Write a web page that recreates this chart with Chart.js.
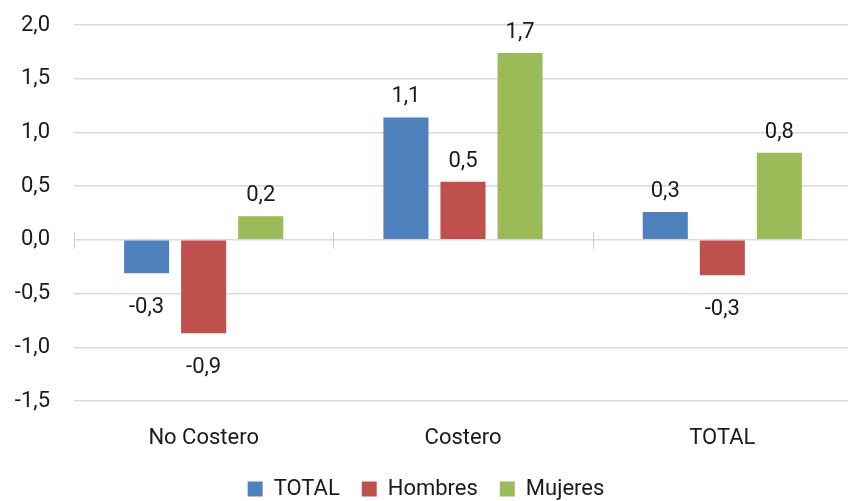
<!DOCTYPE html>
<html>
<head>
<meta charset="utf-8">
<script src="https://cdn.jsdelivr.net/npm/chart.js@4/dist/chart.umd.min.js"></script>
<style>
  html, body { margin: 0; padding: 0; background: #fff; overflow: hidden; }
  #wrap { width: 852px; height: 501px; position: relative; }
</style>
</head>
<body>
<div id="wrap"><canvas id="chart"></canvas></div>
<script>
const categories = ["No Costero", "Costero", "TOTAL"];
const seriesNames = ["TOTAL", "Hombres", "Mujeres"];
const totalValues = [-0.31, 1.14, 0.26];
const hombresValues = [-0.87, 0.54, -0.33];
const mujeresValues = [0.22, 1.74, 0.81];
const seriesColors = ["#4f81bd", "#c0504d", "#9bbb59"];

const FONT = "Roboto, 'DejaVu Sans', sans-serif";
const FSIZE = 22;

function fmt(v) {
  return v.toFixed(1).replace(".", ",");
}

// value labels above / below bars
const barLabels = {
  id: "barLabels",
  afterDatasetsDraw(chart) {
    const ctx = chart.ctx;
    ctx.save();
    ctx.font = FSIZE + "px " + FONT;
    ctx.fillStyle = "#1a1a1a";
    ctx.textAlign = "center";
    ctx.textBaseline = "alphabetic";
    chart.data.datasets.forEach((ds, i) => {
      chart.getDatasetMeta(i).data.forEach((bar, j) => {
        const v = ds.data[j];
        const y = v >= 0 ? bar.y - 15 : bar.y + 40;
        ctx.fillText(fmt(v), bar.x, y);
      });
    });
    ctx.restore();
  }
};

// zero line with category tick marks
const zeroAxis = {
  id: "zeroAxis",
  afterDraw(chart) {
    const { ctx, scales: { x, y } } = chart;
    const y0 = y.getPixelForValue(0);
    ctx.save();
    ctx.strokeStyle = "#d0d0d0";
    ctx.lineWidth = 1;
    ctx.beginPath();
    const n = categories.length;
    const step = (x.right - x.left) / n;
    for (let i = 0; i < n; i++) {
      const px = Math.round(x.left + i * step) + 0.5;
      ctx.moveTo(px, y0 - 8);
      ctx.lineTo(px, y0 + 9);
    }
    ctx.stroke();
    ctx.restore();
  }
};

new Chart(document.getElementById("chart"), {
  type: "bar",
  data: {
    labels: categories,
    datasets: [
      { label: seriesNames[0], data: totalValues, backgroundColor: seriesColors[0] },
      { label: seriesNames[1], data: hombresValues, backgroundColor: seriesColors[1] },
      { label: seriesNames[2], data: mujeresValues, backgroundColor: seriesColors[2] },
    ],
  },
  options: {
    responsive: true,
    maintainAspectRatio: false,
    animation: false,
    categoryPercentage: 0.66,
    barPercentage: 0.79,
    layout: { padding: { top: 25, right: 0, left: 0, bottom: -9 } },
    plugins: {
      legend: {
        position: "bottom",
        labels: {
          color: "#1a1a1a",
          font: { family: FONT, size: FSIZE },
          boxWidth: 15,
          boxHeight: 15,
          padding: 11,
          generateLabels(chart) {
            const items = Chart.defaults.plugins.legend.labels.generateLabels(chart);
            items.forEach((it, i) => {
              if (i < items.length - 1) it.text = it.text + "  ";
            });
            return items;
          },
        },
      },
      tooltip: { enabled: false },
    },
    scales: {
      x: {
        afterFit(scale) { scale.height = 66; },
        grid: { display: false },
        border: { display: false },
        ticks: { color: "#1a1a1a", font: { family: FONT, size: FSIZE }, padding: 16 },
      },
      y: {
        min: -1.5,
        max: 2.0,
        afterFit(scale) {
          scale.width = 74;
          scale.paddingTop = 12;
          scale.paddingBottom = 12;
        },
        grid: { color: "#d9d9d9", lineWidth: 1.5, drawTicks: false },
        border: { display: false },
        ticks: {
          stepSize: 0.5,
          color: "#1a1a1a",
          font: { family: FONT, size: FSIZE },
          padding: 24,
          callback: (v) => fmt(v),
        },
      },
    },
  },
  plugins: [barLabels, zeroAxis],
});
</script>
</body>
</html>
